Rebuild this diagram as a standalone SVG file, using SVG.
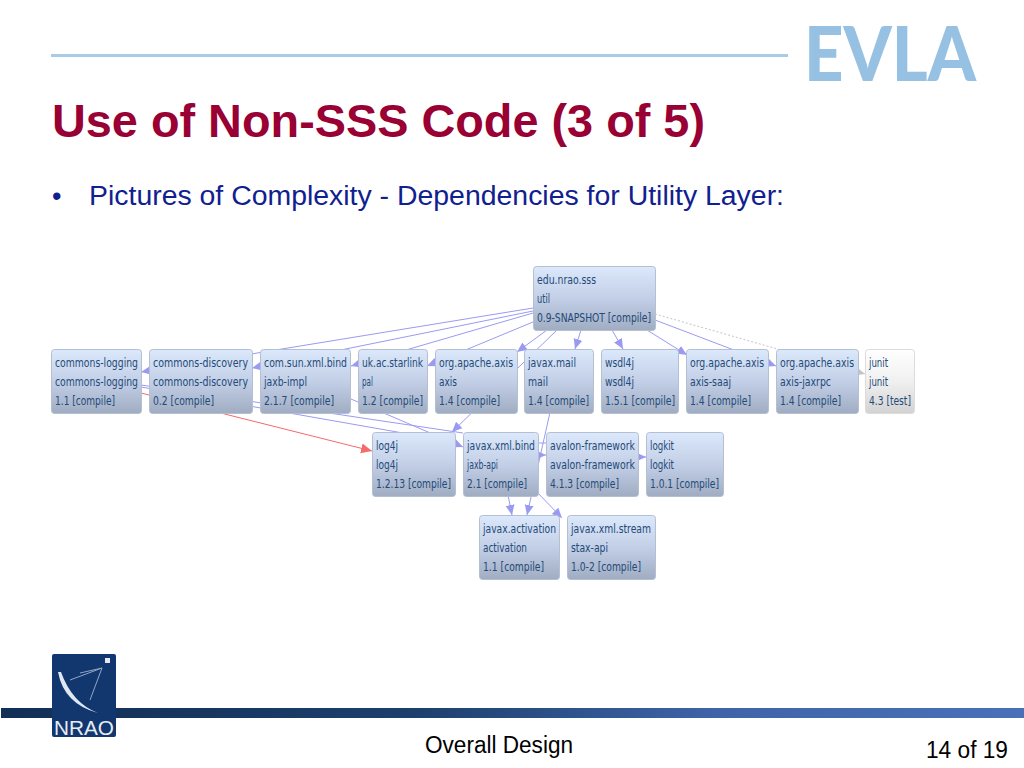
<svg xmlns="http://www.w3.org/2000/svg" width="1024" height="768" viewBox="0 0 1024 768">
<style>
.n{fill:url(#ng);stroke:#b4bfd2;stroke-width:1}
.t{fill:#234a78;font-family:"DejaVu Sans Condensed","DejaVu Sans",sans-serif;font-size:12.400px}
.c{fill:none;stroke:#9a9af2;stroke-width:1}
.a{fill:#9a9af2}
</style>
<defs>
<linearGradient id="ng" x1="0" y1="0" x2="0" y2="1"><stop offset="0" stop-color="#dce8fb"/><stop offset="0.5" stop-color="#c2cfe6"/><stop offset="1" stop-color="#9facc2"/></linearGradient>
<linearGradient id="wg" x1="0" y1="0" x2="0" y2="1"><stop offset="0" stop-color="#ffffff"/><stop offset="0.5" stop-color="#f0f0f0"/><stop offset="1" stop-color="#d2d2d2"/></linearGradient>
<linearGradient id="bar" x1="0" y1="0" x2="1" y2="0"><stop offset="0" stop-color="#122f56"/><stop offset="0.4" stop-color="#1c3f6c"/><stop offset="0.7" stop-color="#3f64a8"/><stop offset="1" stop-color="#4a70b8"/></linearGradient>
<marker id="m" markerWidth="11" markerHeight="11" refX="10" refY="5" orient="auto" markerUnits="userSpaceOnUse"><path d="M0 0.500L10 5L0 9.500Z" fill="#9a9af2"/></marker>
<marker id="mr" markerWidth="12" markerHeight="12" refX="11" refY="5.500" orient="auto" markerUnits="userSpaceOnUse"><path d="M0 0.500L11 5.500L0 10.500Z" fill="#f56a6a"/></marker>
<marker id="mg" markerWidth="11" markerHeight="11" refX="10" refY="5" orient="auto" markerUnits="userSpaceOnUse"><path d="M0 0.500L10 5L0 9.500Z" fill="#c4c4c4"/></marker>
</defs>
<rect width="1024" height="768" fill="#fff"/>
<g id="header">
<rect x="51" y="54" width="737" height="3" fill="#a9cbe6"/>
<text x="804" y="81" font-family="Lato,'Liberation Sans',sans-serif" font-weight="900" font-size="76" fill="#97c1e2" textLength="172" lengthAdjust="spacingAndGlyphs">EVLA</text>
<text x="52" y="137" font-family="'Liberation Sans',sans-serif" font-weight="700" font-size="47" fill="#990033" textLength="653" lengthAdjust="spacingAndGlyphs">Use of Non-SSS Code (3 of 5)</text>
<text x="52" y="205" font-family="'Liberation Sans',sans-serif" font-size="27" fill="#10208f">•</text>
<text x="89" y="205" font-family="'Liberation Sans',sans-serif" font-size="27" fill="#10208f" textLength="695" lengthAdjust="spacingAndGlyphs">Pictures of Complexity - Dependencies for Utility Layer:</text>
</g>
<g id="connectors">
<path class="c" d="M533 308L141 372" marker-end="url(#m)"/>
<path class="c" d="M533 311L252 368" marker-end="url(#m)"/>
<path class="c" d="M533 313L351 366" marker-end="url(#m)"/>
<path class="c" d="M533 322L427 366" marker-end="url(#m)"/>
<path class="c" d="M547 330L517 352" marker-end="url(#m)"/>
<path class="c" d="M557 330L452 432" marker-end="url(#m)"/>
<path class="c" d="M581 330L575 349" marker-end="url(#m)"/>
<path class="c" d="M612 330L623 349" marker-end="url(#m)"/>
<path class="c" d="M647 330L687 355" marker-end="url(#m)"/>
<path class="c" d="M655 320L776 366" marker-end="url(#m)"/>
<path d="M655 314L865 374" fill="none" stroke="#c4c4c4" stroke-dasharray="2 2" marker-end="url(#mg)"/>
<path d="M141 393L372 451" fill="none" stroke="#f56a6a" marker-end="url(#mr)"/>
<path class="c" d="M141 385L463 433"/>
<path class="c" d="M141 387L420 436"/>
<path class="c" d="M351 399L463 447" marker-end="url(#m)"/>
<path class="c" d="M555 390L527 515" marker-end="url(#m)"/>
<path class="c" d="M538 443L546 443"/>
<path class="c" d="M536 455L546 455" marker-end="url(#m)"/>
<path class="c" d="M636 457L646 457" marker-end="url(#m)"/>
<path class="c" d="M507 490L512 515" marker-end="url(#m)"/>
<path class="c" d="M535 490L562 518" marker-end="url(#m)"/>
</g>
<g id="n0"><rect class="n" x="533.500" y="266.500" width="122" height="64" rx="3"/><text class="t" x="537" y="284" textLength="59" lengthAdjust="spacingAndGlyphs">edu.nrao.sss</text><text class="t" x="537" y="303" textLength="13" lengthAdjust="spacingAndGlyphs">util</text><text class="t" x="537" y="322" textLength="114" lengthAdjust="spacingAndGlyphs">0.9-SNAPSHOT [compile]</text></g>
<g id="n1"><rect class="n" x="51.500" y="349.500" width="90" height="64" rx="3"/><text class="t" x="55" y="367" textLength="83" lengthAdjust="spacingAndGlyphs">commons-logging</text><text class="t" x="55" y="386" textLength="83" lengthAdjust="spacingAndGlyphs">commons-logging</text><text class="t" x="55" y="405" textLength="60" lengthAdjust="spacingAndGlyphs">1.1 [compile]</text></g>
<g id="n2"><rect class="n" x="149.500" y="349.500" width="103" height="64" rx="3"/><text class="t" x="153" y="367" textLength="95" lengthAdjust="spacingAndGlyphs">commons-discovery</text><text class="t" x="153" y="386" textLength="95" lengthAdjust="spacingAndGlyphs">commons-discovery</text><text class="t" x="153" y="405" textLength="61" lengthAdjust="spacingAndGlyphs">0.2 [compile]</text></g>
<g id="n3"><rect class="n" x="260.500" y="349.500" width="90" height="64" rx="3"/><text class="t" x="264" y="367" textLength="83" lengthAdjust="spacingAndGlyphs">com.sun.xml.bind</text><text class="t" x="264" y="386" textLength="43" lengthAdjust="spacingAndGlyphs">jaxb-impl</text><text class="t" x="264" y="405" textLength="70" lengthAdjust="spacingAndGlyphs">2.1.7 [compile]</text></g>
<g id="n4"><rect class="n" x="358.500" y="349.500" width="69" height="64" rx="3"/><text class="t" x="362" y="367" textLength="61" lengthAdjust="spacingAndGlyphs">uk.ac.starlink</text><text class="t" x="362" y="386" textLength="11" lengthAdjust="spacingAndGlyphs">pal</text><text class="t" x="362" y="405" textLength="61" lengthAdjust="spacingAndGlyphs">1.2 [compile]</text></g>
<g id="n5"><rect class="n" x="435.500" y="349.500" width="82" height="64" rx="3"/><text class="t" x="439" y="367" textLength="74" lengthAdjust="spacingAndGlyphs">org.apache.axis</text><text class="t" x="439" y="386" textLength="18" lengthAdjust="spacingAndGlyphs">axis</text><text class="t" x="439" y="405" textLength="61" lengthAdjust="spacingAndGlyphs">1.4 [compile]</text></g>
<g id="n6"><rect class="n" x="524.500" y="349.500" width="69" height="64" rx="3"/><text class="t" x="528" y="367" textLength="48" lengthAdjust="spacingAndGlyphs">javax.mail</text><text class="t" x="528" y="386" textLength="20" lengthAdjust="spacingAndGlyphs">mail</text><text class="t" x="528" y="405" textLength="61" lengthAdjust="spacingAndGlyphs">1.4 [compile]</text></g>
<g id="n7"><rect class="n" x="601.500" y="349.500" width="77" height="64" rx="3"/><text class="t" x="605" y="367" textLength="29" lengthAdjust="spacingAndGlyphs">wsdl4j</text><text class="t" x="605" y="386" textLength="29" lengthAdjust="spacingAndGlyphs">wsdl4j</text><text class="t" x="605" y="405" textLength="70" lengthAdjust="spacingAndGlyphs">1.5.1 [compile]</text></g>
<g id="n8"><rect class="n" x="686.500" y="349.500" width="82" height="64" rx="3"/><text class="t" x="690" y="367" textLength="74" lengthAdjust="spacingAndGlyphs">org.apache.axis</text><text class="t" x="690" y="386" textLength="41" lengthAdjust="spacingAndGlyphs">axis-saaj</text><text class="t" x="690" y="405" textLength="61" lengthAdjust="spacingAndGlyphs">1.4 [compile]</text></g>
<g id="n9"><rect class="n" x="776.500" y="349.500" width="82" height="64" rx="3"/><text class="t" x="780" y="367" textLength="74" lengthAdjust="spacingAndGlyphs">org.apache.axis</text><text class="t" x="780" y="386" textLength="51" lengthAdjust="spacingAndGlyphs">axis-jaxrpc</text><text class="t" x="780" y="405" textLength="61" lengthAdjust="spacingAndGlyphs">1.4 [compile]</text></g>
<g id="n10"><rect x="865.500" y="349.500" width="49" height="64" rx="3" fill="url(#wg)" stroke="#dcdcdc"/><text class="t" x="869" y="367" textLength="19" lengthAdjust="spacingAndGlyphs">junit</text><text class="t" x="869" y="386" textLength="19" lengthAdjust="spacingAndGlyphs">junit</text><text class="t" x="869" y="405" textLength="42" lengthAdjust="spacingAndGlyphs">4.3 [test]</text></g>
<g id="n11"><rect class="n" x="372.500" y="432.500" width="83" height="64" rx="3"/><text class="t" x="376" y="450" textLength="22" lengthAdjust="spacingAndGlyphs">log4j</text><text class="t" x="376" y="469" textLength="22" lengthAdjust="spacingAndGlyphs">log4j</text><text class="t" x="376" y="488" textLength="75" lengthAdjust="spacingAndGlyphs">1.2.13 [compile]</text></g>
<g id="n12"><rect class="n" x="463.500" y="432.500" width="75" height="64" rx="3"/><text class="t" x="467" y="450" textLength="68" lengthAdjust="spacingAndGlyphs">javax.xml.bind</text><text class="t" x="467" y="469" textLength="31" lengthAdjust="spacingAndGlyphs">jaxb-api</text><text class="t" x="467" y="488" textLength="60" lengthAdjust="spacingAndGlyphs">2.1 [compile]</text></g>
<g id="n13"><rect class="n" x="546.500" y="432.500" width="92" height="64" rx="3"/><text class="t" x="550" y="450" textLength="85" lengthAdjust="spacingAndGlyphs">avalon-framework</text><text class="t" x="550" y="469" textLength="85" lengthAdjust="spacingAndGlyphs">avalon-framework</text><text class="t" x="550" y="488" textLength="69" lengthAdjust="spacingAndGlyphs">4.1.3 [compile]</text></g>
<g id="n14"><rect class="n" x="646.500" y="432.500" width="77" height="64" rx="3"/><text class="t" x="650" y="450" textLength="24" lengthAdjust="spacingAndGlyphs">logkit</text><text class="t" x="650" y="469" textLength="24" lengthAdjust="spacingAndGlyphs">logkit</text><text class="t" x="650" y="488" textLength="69" lengthAdjust="spacingAndGlyphs">1.0.1 [compile]</text></g>
<g id="n15"><rect class="n" x="479.500" y="515.500" width="80" height="64" rx="3"/><text class="t" x="483" y="533" textLength="73" lengthAdjust="spacingAndGlyphs">javax.activation</text><text class="t" x="483" y="552" textLength="44" lengthAdjust="spacingAndGlyphs">activation</text><text class="t" x="483" y="571" textLength="61" lengthAdjust="spacingAndGlyphs">1.1 [compile]</text></g>
<g id="n16"><rect class="n" x="567.500" y="515.500" width="88" height="64" rx="3"/><text class="t" x="571" y="533" textLength="80" lengthAdjust="spacingAndGlyphs">javax.xml.stream</text><text class="t" x="571" y="552" textLength="37" lengthAdjust="spacingAndGlyphs">stax-api</text><text class="t" x="571" y="571" textLength="70" lengthAdjust="spacingAndGlyphs">1.0-2 [compile]</text></g>
<g id="footer">
<rect x="1" y="708" width="1023" height="10" fill="url(#bar)"/>
<rect x="52" y="654" width="64" height="83" rx="2" fill="#12376e"/>
<path d="M58 672Q64 704 98 713Q72 703 61 672Z" fill="#dfe8f2"/>
<path d="M70 680L102 668L90 700M80 673L102 668" fill="none" stroke="#8fa6c6" stroke-width="1"/>
<rect x="105" y="658" width="5" height="5" fill="#e4e8ef"/>
<text x="54" y="735" font-family="'Liberation Sans',sans-serif" font-size="21" fill="#e8edf4" textLength="60" lengthAdjust="spacingAndGlyphs">NRAO</text>
<text x="425" y="753" font-family="'Liberation Sans',sans-serif" font-size="23" fill="#000" textLength="148" lengthAdjust="spacingAndGlyphs">Overall Design</text>
<text x="926" y="758" font-family="'Liberation Sans',sans-serif" font-size="23" fill="#000" textLength="82" lengthAdjust="spacingAndGlyphs">14 of 19</text>
</g>
</svg>
